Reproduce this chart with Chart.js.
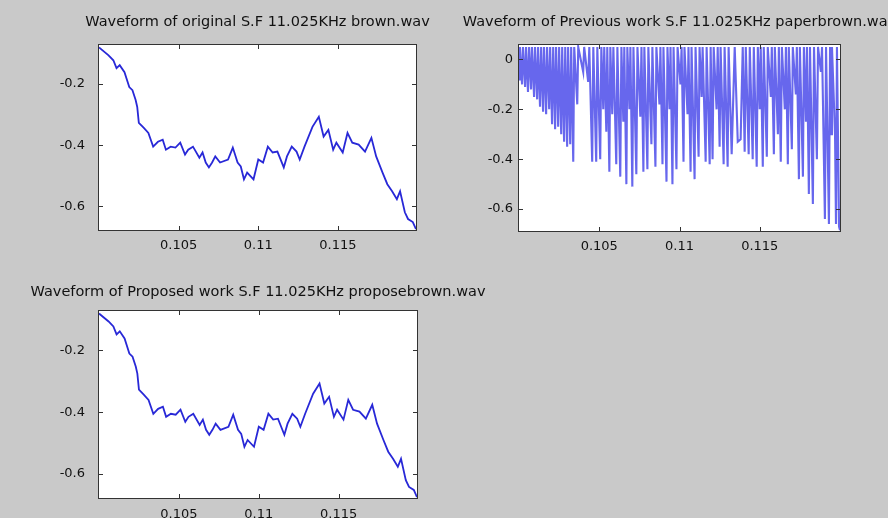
<!DOCTYPE html>
<html lang="en">
<head>
<meta charset="UTF-8">
<title>Waveforms</title>
<script src="https://cdn.jsdelivr.net/npm/chart.js"></script>
<style>
  html, body { margin: 0; padding: 0; }
  body { width: 888px; height: 518px; overflow: hidden; background: #c9c9c9; position: relative; }
  canvas { position: absolute; }
</style>
</head>
<body>
<canvas id="c1" width="437" height="260" style="left:39px;top:0px"></canvas>
<canvas id="c2" width="461" height="261" style="left:449px;top:0px"></canvas>
<canvas id="c3" width="480" height="258" style="left:18px;top:270px"></canvas>
<script>
// titles
const title1 = 'Waveform of original S.F 11.025KHz brown.wav';
const title2 = 'Waveform of Previous work S.F 11.025KHz paperbrown.wav';
const title3 = 'Waveform of Proposed work S.F 11.025KHz proposebrown.wav';

// ticks
const xTicks = [0.105, 0.11, 0.115];
const yTicks = [-0.2, -0.4, -0.6];
const yTicks2 = [0, -0.2, -0.4, -0.6];

// original / proposed waveform (time s, amplitude)
const t1 = [0.1, 0.1006, 0.1009, 0.1011, 0.1013, 0.1016, 0.1019, 0.1021, 0.1023, 0.1024,
  0.1025, 0.1028, 0.1031, 0.1034, 0.1037, 0.104, 0.1042, 0.1045, 0.1048, 0.1051,
  0.1054, 0.1056, 0.1059, 0.1063, 0.1065, 0.1067, 0.1069, 0.1071, 0.1073, 0.1076,
  0.1081, 0.1084, 0.1087, 0.1089, 0.1091, 0.1093, 0.1097, 0.11, 0.1103, 0.1106,
  0.1109, 0.1112, 0.1116, 0.1118, 0.1121, 0.1124, 0.1126, 0.1129, 0.1134, 0.1138,
  0.1141, 0.1144, 0.1147, 0.1149, 0.1153, 0.1156, 0.1159, 0.1163, 0.1167, 0.1171,
  0.1174, 0.1178, 0.1181, 0.1184, 0.1187, 0.1189, 0.1192, 0.1194, 0.1197, 0.1199];
const v1 = [-0.08, -0.106, -0.122, -0.148, -0.138, -0.161, -0.21, -0.22, -0.252, -0.275,
  -0.327, -0.343, -0.36, -0.405, -0.389, -0.382, -0.415, -0.405, -0.408, -0.392,
  -0.431, -0.415, -0.405, -0.441, -0.424, -0.457, -0.473, -0.457, -0.437, -0.457,
  -0.447, -0.408, -0.457, -0.47, -0.512, -0.49, -0.512, -0.447, -0.457, -0.405,
  -0.424, -0.421, -0.473, -0.437, -0.405, -0.421, -0.447, -0.405, -0.34, -0.307,
  -0.372, -0.35, -0.415, -0.392, -0.424, -0.36, -0.392, -0.398, -0.421, -0.376,
  -0.437, -0.49, -0.528, -0.551, -0.577, -0.551, -0.62, -0.642, -0.652, -0.675];

// previous work waveform
const t2 = [0.1, 0.10006, 0.10019, 0.10025, 0.10038, 0.10044, 0.10056, 0.10063, 0.10075, 0.10081,
  0.10094, 0.101, 0.10113, 0.10119, 0.10131, 0.10138, 0.1015, 0.10156, 0.10169, 0.10175,
  0.10188, 0.10194, 0.10206, 0.10213, 0.10225, 0.10231, 0.10244, 0.1025, 0.10263, 0.10269,
  0.10281, 0.10288, 0.103, 0.10306, 0.10319, 0.10325, 0.10338, 0.10344, 0.10363, 0.10369,
  0.104, 0.10406, 0.10431, 0.10438, 0.10456, 0.10463, 0.10481, 0.10488, 0.10506, 0.10513,
  0.10525, 0.10531, 0.10544, 0.1055, 0.10563, 0.10569, 0.10581, 0.10588, 0.10606, 0.10613,
  0.10631, 0.10638, 0.1065, 0.10656, 0.10669, 0.10675, 0.10688, 0.10694, 0.10706, 0.10713,
  0.10731, 0.10738, 0.10756, 0.10763, 0.10775, 0.10781, 0.108, 0.10806, 0.10825, 0.10831,
  0.1085, 0.10856, 0.10875, 0.10881, 0.10894, 0.109, 0.10919, 0.10925, 0.10938, 0.10944,
  0.10956, 0.10963, 0.10981, 0.10988, 0.11006, 0.11013, 0.11025, 0.11031, 0.1105, 0.11056,
  0.11069, 0.11075, 0.11094, 0.111, 0.11119, 0.11125, 0.11138, 0.11144, 0.11163, 0.11169,
  0.11188, 0.11194, 0.11206, 0.11213, 0.11231, 0.11238, 0.1125, 0.11256, 0.11275, 0.11281,
  0.113, 0.11306, 0.11325, 0.11344, 0.11363, 0.11381, 0.11394, 0.11406, 0.11413, 0.11431,
  0.11438, 0.11456, 0.11463, 0.11481, 0.11488, 0.115, 0.11506, 0.11519, 0.11525, 0.11544,
  0.1155, 0.11569, 0.11575, 0.11588, 0.11594, 0.11613, 0.11619, 0.11631, 0.11638, 0.11656,
  0.11663, 0.11675, 0.11681, 0.117, 0.11706, 0.11725, 0.11731, 0.11744, 0.1175, 0.11769,
  0.11775, 0.11788, 0.11794, 0.11806, 0.11813, 0.11831, 0.11838, 0.11856, 0.11863, 0.11881,
  0.11888, 0.11906, 0.11913, 0.11931, 0.11938, 0.11944, 0.1195, 0.11969, 0.11975, 0.11981,
  0.11994, 0.12];
const v2 = [-0.08, 0.05, -0.10, 0.05, -0.11, 0.05, -0.13, 0.05, -0.12, 0.05,
  -0.15, 0.05, -0.16, 0.05, -0.19, 0.05, -0.21, 0.05, -0.22, 0.05,
  -0.20, 0.05, -0.26, 0.05, -0.28, 0.05, -0.27, 0.05, -0.30, 0.05,
  -0.33, 0.05, -0.35, 0.05, -0.34, 0.05, -0.41, 0.05, -0.18, 0.05,
  -0.05, 0.05, -0.09, 0.05, -0.41, 0.05, -0.41, 0.05, -0.40, 0.05,
  -0.20, 0.05, -0.29, 0.05, -0.45, 0.05, -0.22, 0.05, -0.42, 0.05,
  -0.47, 0.05, -0.25, 0.05, -0.50, 0.05, -0.20, 0.05, -0.51, 0.05,
  -0.46, 0.05, -0.23, 0.05, -0.45, 0.05, -0.44, 0.05, -0.34, 0.05,
  -0.43, 0.05, -0.18, 0.05, -0.42, 0.05, -0.49, 0.05, -0.20, 0.05,
  -0.50, 0.05, -0.44, 0.05, -0.10, 0.05, -0.41, 0.05, -0.22, 0.05,
  -0.45, 0.05, -0.48, 0.05, -0.39, 0.05, -0.15, 0.05, -0.41, 0.05,
  -0.42, 0.05, -0.40, 0.05, -0.20, 0.05, -0.35, 0.05, -0.42, 0.05,
  -0.43, 0.05, -0.38, 0.05, -0.33, -0.32, 0.05, -0.37, 0.05, -0.38,
  0.05, -0.40, 0.05, -0.43, 0.05, -0.20, 0.05, -0.43, 0.05, -0.39,
  0.05, -0.15, 0.05, -0.38, 0.05, -0.30, 0.05, -0.41, 0.05, -0.20,
  0.05, -0.42, 0.05, -0.36, 0.05, -0.14, 0.05, -0.48, 0.05, -0.47,
  0.05, -0.25, 0.05, -0.54, 0.05, -0.58, 0.05, -0.40, 0.05, -0.05,
  0.05, -0.64, 0.05, -0.66, 0.05, -0.30, 0.05, -0.30, -0.66, 0.05,
  -0.67, -0.685];

const pts = (ts, vs) => ts.map((t, i) => ({ x: t, y: vs[i] }));

Chart.defaults.font.family = 'DejaVu Sans';
Chart.defaults.font.size = 13;
Chart.defaults.color = '#111';

const framePlugin = {
  id: 'frame',
  beforeDraw(chart) {
    const { ctx, chartArea: a } = chart;
    ctx.save();
    ctx.fillStyle = '#ffffff';
    ctx.fillRect(a.left, a.top, a.right - a.left, a.bottom - a.top);
    ctx.restore();
  },
  afterDraw(chart) {
    const { ctx, chartArea: a, scales } = chart;
    ctx.save();
    ctx.strokeStyle = '#333';
    ctx.lineWidth = 1;
    ctx.strokeRect(a.left - 0.5, a.top - 0.5, a.right - a.left + 1, a.bottom - a.top + 1);
    ctx.beginPath();
    scales.x.ticks.forEach(t => {
      const px = Math.round(scales.x.getPixelForValue(t.value)) + 0.5;
      ctx.moveTo(px, a.top); ctx.lineTo(px, a.top + 4);
      ctx.moveTo(px, a.bottom); ctx.lineTo(px, a.bottom - 4);
    });
    scales.y.ticks.forEach(t => {
      const py = Math.round(scales.y.getPixelForValue(t.value)) + 0.5;
      ctx.moveTo(a.left, py); ctx.lineTo(a.left + 4, py);
      ctx.moveTo(a.right, py); ctx.lineTo(a.right - 4, py);
    });
    ctx.stroke();
    ctx.restore();
  }
};

function makeChart(id, o) {
  new Chart(document.getElementById(id), {
    type: 'line',
    data: {
      datasets: [{
        data: o.data,
        borderColor: o.color,
        borderWidth: o.width,
        pointRadius: 0,
        tension: 0,
        fill: false
      }]
    },
    options: {
      responsive: false,
      animation: false,
      events: [],
      layout: { padding: 0 },
      plugins: {
        legend: { display: false },
        tooltip: { enabled: false },
        title: {
          display: true,
          text: o.title,
          color: '#111',
          font: { size: 14.5, weight: 'normal' },
          padding: { top: 13.3, bottom: o.titleGap }
        }
      },
      scales: {
        x: {
          type: 'linear',
          min: 0.1,
          max: o.xMax,
          grid: { display: false, drawTicks: false },
          border: { display: false },
          afterBuildTicks: s => { s.ticks = xTicks.map(v => ({ value: v })); },
          afterFit: s => { s.height = 30; },
          ticks: { autoSkip: false, maxRotation: 0, padding: o.xPad, callback: v => String(v) }
        },
        y: {
          type: 'linear',
          min: o.yMin,
          max: o.yMax,
          grid: { display: false, drawTicks: false },
          border: { display: false },
          afterBuildTicks: s => { s.ticks = o.yTicks.map(v => ({ value: v })); },
          afterFit: s => { s.width = o.side; },
          ticks: { autoSkip: false, padding: o.yPad, callback: v => String(v) }
        },
        // empty right-hand axis so the title centres over the plot box
        y2: {
          type: 'linear',
          position: 'right',
          grid: { display: false, drawTicks: false },
          border: { display: false },
          ticks: { display: false },
          afterFit: s => { s.width = o.side; }
        }
      }
    },
    plugins: [framePlugin]
  });
}

makeChart('c1', { title: title1, data: pts(t1, v1), color: 'rgb(40,40,215)', width: 1.8,
  side: 60, titleGap: 14.3, xMax: 0.1199, yMin: -0.678, yMax: -0.072, yTicks: yTicks, yPad: 14, xPad: 8 });
makeChart('c2', { title: title2, data: pts(t2, v2), color: 'rgba(45,45,230,0.72)', width: 2.1,
  side: 70, titleGap: 14.3, xMax: 0.12, yMin: -0.688, yMax: 0.058, yTicks: yTicks2, yPad: 6, xPad: 8 });
makeChart('c3', { title: title3, data: pts(t1, v1), color: 'rgb(40,40,215)', width: 1.8,
  side: 81, titleGap: 10.3, xMax: 0.1199, yMin: -0.678, yMax: -0.072, yTicks: yTicks, yPad: 14, xPad: 9 });
</script>
</body>
</html>
